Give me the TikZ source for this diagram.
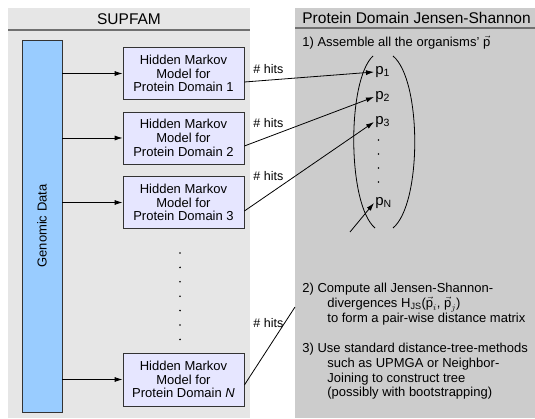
\documentclass[tikz,border=0pt]{standalone}
\usepackage{fontspec}
\setmainfont{Liberation Sans}
\usepackage{amsmath}
\usetikzlibrary{arrows.meta, positioning}

\definecolor{panelleft}{HTML}{E6E6E6}
\definecolor{panelright}{HTML}{CCCCCC}
\definecolor{headrule}{HTML}{707070}
\definecolor{genomeblue}{HTML}{99CCFF}
\definecolor{hmmfill}{HTML}{E6E6FF}

\newcommand\pvec[1]{\ensuremath{\vec{\text{p}}_{#1}}}

\begin{document}
\begin{tikzpicture}[x=1pt, y=-1pt, line width=0.8pt,
    >={Latex[length=8pt,width=5pt]},
    hmm/.style={draw=black!80, fill=hmmfill, minimum width=121pt, minimum height=52pt,
        align=center, inner sep=0pt, font=\fontsize{13}{13.8}\selectfont},
    hits/.style={anchor=west, inner sep=0pt, font=\fontsize{12.5}{14}\selectfont},
    pnode/.style={anchor=west, inner sep=1pt, font=\fontsize{15}{16}\selectfont},
    steptext/.style={anchor=north west, align=left, inner sep=0pt, font=\fontsize{13}{14.6}\selectfont},
    header/.style={inner sep=0pt, font=\fontsize{15.5}{17}\selectfont}]

    % Canvas
    \fill[white] (0,0) rectangle (535,419);
    \useasboundingbox (0,0) rectangle (535,419);

    % Panels
    \fill[panelleft] (8,8) rectangle (250,418);
    \fill[panelright] (295,8) rectangle (535,418);
    \draw[headrule, line width=2pt] (8,30) -- (250,30);
    \draw[headrule, line width=2pt] (295,28.5) -- (535,28.5);
    \node[header] (supfam) at (129,19) {SUPFAM};
    \node[header, anchor=west] (pdjs) at (302,18) {Protein Domain Jensen-Shannon};

    % Genomic data
    \node[draw=black!80, fill=genomeblue, minimum width=40pt, minimum height=372pt, inner sep=0pt] (genome) at (42,226) {};
    \node[rotate=90, inner sep=0pt, font=\fontsize{13}{14}\selectfont] (genomelabel) at (genome) {Genomic Data};

    % Hidden Markov models
    \node[hmm] (hmm1) at (183.5,73.5) {Hidden Markov\\Model for\\Protein Domain 1};
    \node[hmm] (hmm2) at (183.5,138) {Hidden Markov\\Model for\\Protein Domain 2};
    \node[hmm] (hmm3) at (183.5,202.5) {Hidden Markov\\Model for\\Protein Domain 3};
    \node[hmm, minimum height=53pt] (hmmN) at (183.5,379.5) {Hidden Markov\\Model for\\Protein Domain \textit{N}};

    \foreach \k in {0,...,6}
        \fill (180,{253+14.4*\k}) circle (0.9);

    \foreach \hmmbox in {hmm1, hmm2, hmm3, hmmN}
        \draw[->] (genome.east |- \hmmbox) -- (\hmmbox);

    % Vector p
    \node[pnode] (p1) at (374,72) {p\textsubscript{1}};
    \node[pnode] (p2) at (374,97) {p\textsubscript{2}};
    \node[pnode] (p3) at (374,122) {p\textsubscript{3}};
    \node[pnode] (pN) at (374,203) {p\textsubscript{N}};
    \foreach \y in {140,154,168,182}
        \fill (378.5,\y) circle (0.9);
    \draw (373,56) .. controls (347,80) and (347,204) .. (375,228);
    \draw (393,56) .. controls (422,80) and (422,204) .. (393,228);

    % Hits
    \node[hits] (hits1) at (253,69) {\# hits};
    \node[hits] (hits2) at (253,123) {\# hits};
    \node[hits] (hits3) at (253,176) {\# hits};
    \node[hits] (hitsN) at (253,323) {\# hits};
    \draw[->] ([yshift=-8.5pt]hmm1.east) -- (p1.west);
    \draw[->] ([yshift=-8pt]hmm2.east) -- (p2.west);
    \draw[->] ([yshift=-8.5pt]hmm3.east) -- (p3.west);
    \coordinate (edgeN) at (295,307);
    \coordinate (tailN) at (350,232);
    \draw ([yshift=-5.5pt]hmmN.east) -- (edgeN);
    \draw[->] (tailN) -- (pN.west);

    % Steps
    \node[steptext] (step1) at (302,36) {1) Assemble all the organisms' \pvec{}};
    \node[steptext] (step2) at (302,283) {2) Compute all Jensen-Shannon-\\
        \hspace*{25pt}divergences \ensuremath{\text{H}_{\text{JS}}}(\pvec{i}, \pvec{j})\\
        \hspace*{25pt}to form a pair-wise distance matrix};
    \node[steptext] (step3) at (302,343) {3) Use standard distance-tree-methods\\
        \hspace*{25pt}such as UPMGA or Neighbor-\\
        \hspace*{25pt}Joining to construct tree\\
        \hspace*{25pt}(possibly with bootstrapping)};

\end{tikzpicture}
\end{document}
